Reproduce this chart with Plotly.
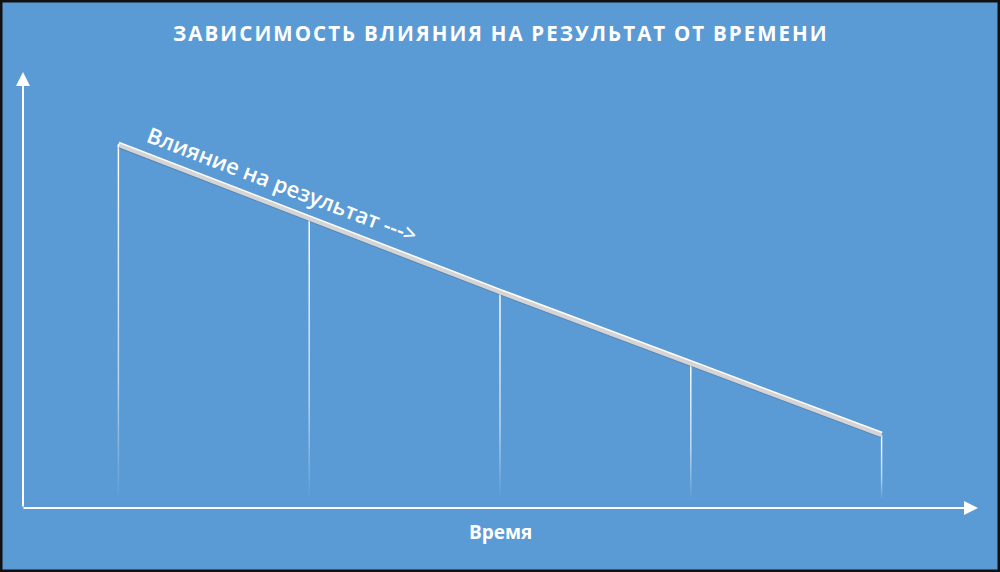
import plotly.graph_objects as go

# ---- data ----
time_points = [1, 2, 3, 4, 5]
influence = [84, 67, 50, 33.5, 17]
floor_level = 2
title_text = "ЗАВИСИМОСТЬ ВЛИЯНИЯ НА РЕЗУЛЬТАТ ОТ ВРЕМЕНИ"
line_label = "Влияние на результат --->"
x_label = "Время"

W, H = 1000, 572
BG = "#5B9BD5"
WHITE = "#FFFFFF"

fig = go.Figure()

# drop lines with vertical fade (thin filled polygons with gradient)
hw = 0.0038
for t, v in zip(time_points, influence):
    fig.add_trace(go.Scatter(
        x=[t - hw, t + hw, t + hw, t - hw, t - hw],
        y=[v, v, floor_level, floor_level, v],
        mode="lines", line=dict(width=0), fill="toself",
        fillgradient=dict(type="vertical", start=floor_level, stop=v,
                          colorscale=[[0, "rgba(255,255,255,0)"],
                                      [0.35, "rgba(255,255,255,0.6)"],
                                      [1, "rgba(255,255,255,1)"]]),
        hoverinfo="skip", showlegend=False))

# shadow of main line (same data through a slightly shifted axis)
fig.add_trace(go.Scatter(x=time_points, y=influence, mode="lines",
                         line=dict(color="rgba(60,60,70,0.22)", width=5),
                         yaxis="y2", xaxis="x2", showlegend=False, hoverinfo="skip"))
# main line
fig.add_trace(go.Scatter(x=time_points, y=influence, mode="lines",
                         line=dict(color=WHITE, width=5.5),
                         showlegend=False))

xdom = [23 / W, 977 / W]
ydom = [64 / H, 1 - 75 / H]
fig.update_layout(
    width=W, height=H,
    margin=dict(l=0, r=0, t=0, b=0),
    paper_bgcolor=BG, plot_bgcolor=BG,
    xaxis=dict(domain=xdom, range=[0.5, 5.5], visible=False, fixedrange=True),
    xaxis2=dict(domain=xdom, range=[0.497, 5.497], visible=False, overlaying="x"),
    yaxis=dict(domain=ydom, range=[0, 100], visible=False, fixedrange=True),
    yaxis2=dict(domain=ydom, range=[0.35, 100.35], visible=False, overlaying="y"),
    shapes=[dict(type="rect", xref="paper", yref="paper", x0=0, y0=0, x1=1, y1=1,
                 line=dict(color="#111111", width=5), fillcolor="rgba(0,0,0,0)")],
)

# axes with arrows
fig.add_annotation(xref="paper", yref="paper", x=23 / W, y=1 - 72 / H,
                   ax=0, ay=508 - 72, axref="pixel", ayref="pixel",
                   showarrow=True, arrowhead=2, arrowsize=1.4, arrowwidth=2,
                   arrowcolor=WHITE, text="")
fig.add_annotation(xref="paper", yref="paper", x=978 / W, y=1 - 508 / H,
                   ax=-(978 - 22), ay=0, axref="pixel", ayref="pixel",
                   showarrow=True, arrowhead=2, arrowsize=1.4, arrowwidth=2,
                   arrowcolor=WHITE, text="")

def spaced(s):
    words = ["\u200a".join(w) for w in s.split(" ")]
    return " \u2009".join(words)

fig.add_annotation(xref="paper", yref="paper", x=0.5, y=1 - 33 / H,
                   text=spaced(title_text), showarrow=False,
                   font=dict(family="Open Sans", size=20.5, color=WHITE, weight=700),
                   xanchor="center", yanchor="middle")

fig.add_annotation(xref="paper", yref="paper", x=0.5, y=1 - 532 / H,
                   text=x_label, showarrow=False,
                   font=dict(family="Open Sans", size=19, color=WHITE, weight=700),
                   xanchor="center", yanchor="middle")

fig.add_annotation(xref="x", yref="y", x=1.86, y=74.8, text=line_label,
                   showarrow=False, textangle=20.8,
                   font=dict(family="Open Sans", size=22, color=WHITE, weight=600),
                   xanchor="center", yanchor="middle")

fig.write_html("out.html", config={"displayModeBar": False},
               post_script="document.body.style.margin='0';")
